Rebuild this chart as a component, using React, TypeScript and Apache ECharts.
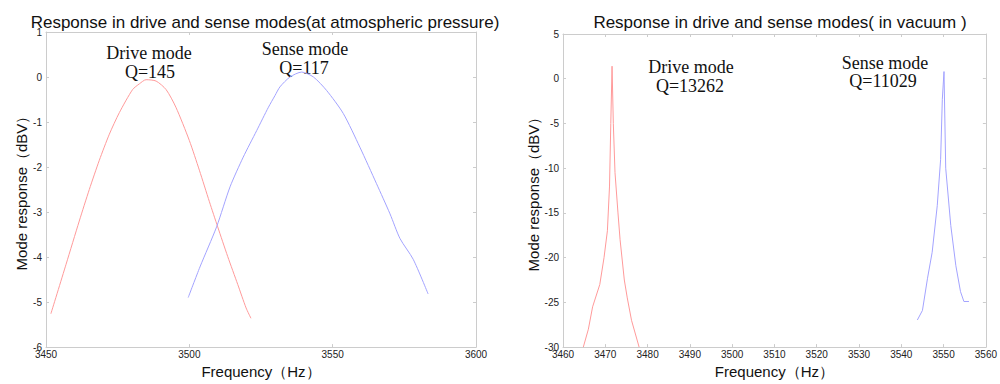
import React, { useEffect, useRef } from "react";
import * as echarts from "echarts";

// ---- Atmospheric pressure (left plot) ----
const driveAtmFreq = [3451.7, 3457.0, 3461.6, 3465.1, 3468.6, 3472.1, 3475.6, 3480.2, 3482.6, 3484.9, 3488.4, 3491.9, 3495.3, 3500.0, 3503.5, 3507.0, 3509.9, 3513.4, 3516.9, 3519.8, 3521.5];
const driveAtmDb = [-5.26, -4.16, -3.2, -2.5, -1.85, -1.27, -0.79, -0.28, -0.15, -0.06, -0.09, -0.28, -0.67, -1.41, -2.07, -2.77, -3.33, -3.99, -4.61, -5.13, -5.36];

const senseAtmFreq = [3499.6, 3503.7, 3509.5, 3514.2, 3518.8, 3523.5, 3527.6, 3529.9, 3531.6, 3535.1, 3539.2, 3543.3, 3547.9, 3553.7, 3559.5, 3565.3, 3570.0, 3573.5, 3578.1, 3583.3];
const senseAtmDb = [-4.9, -4.22, -3.33, -2.44, -1.78, -1.19, -0.67, -0.41, -0.22, 0.0, 0.11, 0.0, -0.3, -0.81, -1.56, -2.37, -3.04, -3.59, -4.05, -4.82];

// ---- Vacuum (right plot) ----
const driveVacFreq = [3464.8, 3466.0, 3467.0, 3468.7, 3469.7, 3470.5, 3471.0, 3471.3, 3471.6, 3471.9, 3472.3, 3473.0, 3473.5, 3474.5, 3475.2, 3476.2, 3478.0];
const driveVacDb = [-30, -28, -25.5, -23, -20, -17, -12, -5, 1.4, -5, -10.5, -15, -18, -22.5, -24.5, -27, -30];

const senseVacFreq = [3543.8, 3545.0, 3546.2, 3547.3, 3548.5, 3549.3, 3549.7, 3550.1, 3550.5, 3551.7, 3552.9, 3554.0, 3554.8, 3556.0];
const senseVacDb = [-26.97, -25.9, -22.3, -19.4, -14.2, -9.0, -2.3, 0.8, -10.0, -16.4, -20.9, -23.8, -24.9, -24.9];

const leftXTicks = { min: 3450, max: 3600, interval: 50 };
const leftYTicks = { min: -6, max: 1, interval: 1 };
const rightXTicks = { min: 3460, max: 3560, interval: 10 };
const rightYTicks = { min: -30, max: 5, interval: 5 };

const pairs = (xs: number[], ys: number[]) => xs.map((x, i) => [x, ys[i]]);

const RED = "#ff9a9a";
const BLUE = "#a3a3ff";
const AXIS_COLOR = "#cccccc";
const SANS = "Arial, Liberation Sans, sans-serif";
const SERIF = "Times New Roman, Liberation Serif, serif";

export default function App() {
  const ref = useRef<HTMLDivElement>(null);

  useEffect(() => {
    if (!ref.current) return;
    const chart = echarts.init(ref.current, undefined, { renderer: "svg" });

    const labelStyle = { color: "#222", fontSize: 10, fontFamily: SANS, formatter: (v: number) => String(v) };
    const nameStyle = { color: "#111", fontSize: 15, fontFamily: SANS };

    const mkX = (grid: number, t: any, pos: "bottom" | "top", withLabel: boolean, name?: string) => ({
      type: "value",
      gridIndex: grid,
      position: pos,
      min: t.min,
      max: t.max,
      interval: t.interval,
      axisLine: { show: true, onZero: false, lineStyle: { color: AXIS_COLOR } },
      axisTick: { show: true, inside: true, length: 3, lineStyle: { color: AXIS_COLOR } },
      axisLabel: withLabel ? { ...labelStyle, margin: 2 } : { show: false },
      splitLine: { show: false },
      name: withLabel ? name : undefined,
      nameLocation: "middle",
      nameGap: 16,
      nameTextStyle: nameStyle,
    });
    const mkY = (grid: number, t: any, pos: "left" | "right", withLabel: boolean, name?: string, gap = 24) => ({
      type: "value",
      gridIndex: grid,
      position: pos,
      min: t.min,
      max: t.max,
      interval: t.interval,
      axisLine: { show: true, onZero: false, lineStyle: { color: AXIS_COLOR } },
      axisTick: { show: true, inside: true, length: 3, lineStyle: { color: AXIS_COLOR } },
      axisLabel: withLabel ? { ...labelStyle, margin: 4 } : { show: false },
      splitLine: { show: false },
      name: withLabel ? name : undefined,
      nameLocation: "middle",
      nameGap: gap,
      nameRotate: 90,
      nameTextStyle: nameStyle,
    });

    const ann = (x: number, y: number, text: string, size: number) => ({
      type: "text",
      x,
      y,
      style: {
        text,
        fill: "#111",
        font: `${size}px ${SERIF}`,
        align: "center",
        verticalAlign: "middle",
      },
    });

    chart.setOption({
      animation: false,
      backgroundColor: "#ffffff",
      title: [
        {
          text: "Response in drive and sense modes(at atmospheric pressure)",
          left: 260,
          top: 9,
          textAlign: "center",
          textStyle: { fontSize: 17, fontWeight: "normal", color: "#111", fontFamily: SANS },
        },
        {
          text: "Response in drive and sense modes( in vacuum )",
          left: 775,
          top: 9,
          textAlign: "center",
          textStyle: { fontSize: 17, fontWeight: "normal", color: "#111", fontFamily: SANS },
        },
      ],
      grid: [
        { left: 46, top: 32, width: 430, height: 317, containLabel: false },
        { left: 563, top: 34, width: 424, height: 315, containLabel: false },
      ],
      xAxis: [
        mkX(0, leftXTicks, "bottom", true, "Frequency（Hz）"),
        mkX(0, leftXTicks, "top", false),
        mkX(1, rightXTicks, "bottom", true, "Frequency（Hz）"),
        mkX(1, rightXTicks, "top", false),
      ],
      yAxis: [
        mkY(0, leftYTicks, "left", true, "Mode response（dBV）", 17),
        mkY(0, leftYTicks, "right", false),
        mkY(1, rightYTicks, "left", true, "Mode response（dBV）", 22),
        mkY(1, rightYTicks, "right", false),
      ],
      series: [
        {
          type: "line",
          xAxisIndex: 0,
          yAxisIndex: 0,
          data: pairs(driveAtmFreq, driveAtmDb),
          smooth: 0.25,
          showSymbol: false,
          lineStyle: { color: RED, width: 1 },
        },
        {
          type: "line",
          xAxisIndex: 0,
          yAxisIndex: 0,
          data: pairs(senseAtmFreq, senseAtmDb),
          smooth: 0.25,
          showSymbol: false,
          lineStyle: { color: BLUE, width: 1 },
        },
        {
          type: "line",
          xAxisIndex: 2,
          yAxisIndex: 2,
          data: pairs(driveVacFreq, driveVacDb),
          showSymbol: false,
          lineStyle: { color: RED, width: 1 },
        },
        {
          type: "line",
          xAxisIndex: 2,
          yAxisIndex: 2,
          data: pairs(senseVacFreq, senseVacDb),
          showSymbol: false,
          lineStyle: { color: BLUE, width: 1 },
        },
      ],
      graphic: [
        ann(149, 53, "Drive mode", 18),
        ann(150, 72, "Q=145", 18),
        ann(305, 49, "Sense mode", 18),
        ann(304, 68, "Q=117", 18),
        ann(691, 67, "Drive mode", 18),
        ann(690, 86, "Q=13262", 18),
        ann(885, 63, "Sense mode", 18),
        ann(883, 81, "Q=11029", 18),
      ],
    });

    return () => chart.dispose();
  }, []);

  return (
    <div
      ref={ref}
      style={{ position: "absolute", left: 0, top: 0, width: 1000, height: 384, background: "#fff" }}
    />
  );
}
